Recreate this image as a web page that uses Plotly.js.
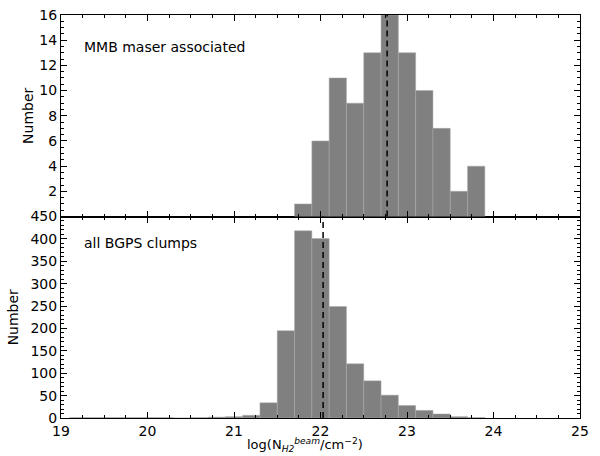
<!DOCTYPE html>
<html>
<head>
<meta charset="utf-8">
<script src="https://cdn.plot.ly/plotly-3.0.1.min.js"></script>
<style>html,body{margin:0;padding:0;background:#fff;}#chart{width:600px;height:456px;}</style>
</head>
<body>
<div id="chart"></div>
<script>
// Bin centres (bin width 0.2 dex)
var mmbBinCenters = [21.8, 22.0, 22.2, 22.4, 22.6, 22.8, 23.0, 23.2, 23.4, 23.6, 23.8];
var mmbCounts     = [1, 6, 11, 9, 13, 16, 13, 10, 7, 2, 4];
var mmbMedian = 22.77;

var bgpsBinCenters = [19.2, 19.4, 19.6, 19.8, 20.0, 20.2, 20.4, 20.6, 20.8, 21.0, 21.2, 21.4, 21.6, 21.8, 22.0, 22.2, 22.4, 22.6, 22.8, 23.0, 23.2, 23.4, 23.6, 23.8];
var bgpsCounts     = [1, 1, 1, 1, 1, 1, 0, 1, 2, 3, 6, 34, 195, 418, 401, 249, 121, 83, 51, 28, 17, 9, 3, 1];
var bgpsMedian = 22.03;

var binWidth = 0.2;
var xTickVals = [19, 20, 21, 22, 23, 24, 25];
var topYTicks = [2, 4, 6, 8, 10, 12, 14, 16];
var botYTicks = [0, 50, 100, 150, 200, 250, 300, 350, 400, 450];

var barColor = '#808080';
var font = {family: 'DejaVu Sans, sans-serif', size: 14, color: '#000'};

var traces = [
  {type: 'bar', x: mmbBinCenters, y: mmbCounts, width: binWidth, xaxis: 'x2', yaxis: 'y2',
   marker: {color: barColor, line: {color: '#a8a8a8', width: 0.5}}, hoverinfo: 'x+y', showlegend: false},
  {type: 'bar', x: bgpsBinCenters, y: bgpsCounts, width: binWidth, xaxis: 'x', yaxis: 'y',
   marker: {color: barColor, line: {color: '#a8a8a8', width: 0.5}}, hoverinfo: 'x+y', showlegend: false}
];

function xAxis(showLabels, anchor) {
  return {
    range: [19, 25], anchor: anchor, tickvals: xTickVals, showticklabels: showLabels,
    ticks: 'inside', ticklen: 6, tickwidth: 1, tickcolor: '#000',
    minor: {dtick: 0.25, tick0: 19, ticks: 'inside', ticklen: 3, tickcolor: '#000', tickwidth: 1},
    showline: true, linecolor: '#000', linewidth: 1, mirror: 'ticks',
    showgrid: false, zeroline: false, tickfont: font
  };
}

var layout = {
  width: 600, height: 456,
  margin: {l: 60.5, r: 19.5, t: 15, b: 38},
  paper_bgcolor: '#fff', plot_bgcolor: '#fff',
  font: font, bargap: 0,
  xaxis: xAxis(true, 'y'),
  xaxis2: Object.assign(xAxis(false, 'y2'), {matches: 'x'}),
  yaxis: {
    domain: [0, 0.5], range: [0, 450], anchor: 'x', tickvals: botYTicks,
    ticks: 'inside', ticklen: 6, tickcolor: '#000',
    minor: {dtick: 10, ticks: 'inside', ticklen: 3, tickcolor: '#000'},
    showline: true, linecolor: '#000', linewidth: 1, mirror: 'ticks',
    showgrid: false, zeroline: false, tickfont: font,
    title: {text: 'Number', font: font, standoff: 8}
  },
  yaxis2: {
    domain: [0.5, 1], range: [0, 16], anchor: 'x2', tickvals: topYTicks,
    ticks: 'inside', ticklen: 6, tickcolor: '#000',
    minor: {dtick: 0.5, ticks: 'inside', ticklen: 3, tickcolor: '#000'},
    showline: true, linecolor: '#000', linewidth: 1, mirror: 'ticks',
    showgrid: false, zeroline: false, tickfont: font,
    title: {text: 'Number', font: font, standoff: 2}
  },
  shapes: [
    {type: 'line', xref: 'x2', yref: 'y2 domain', x0: mmbMedian, x1: mmbMedian, y0: 0, y1: 1,
     line: {color: '#000', width: 1.5, dash: '6px,4px'}},
    {type: 'line', xref: 'x', yref: 'y domain', x0: bgpsMedian, x1: bgpsMedian, y0: 0, y1: 1,
     line: {color: '#000', width: 1.5, dash: '6px,4px'}}
  ],
  annotations: [
    {text: 'MMB maser associated', xref: 'x2 domain', yref: 'y2 domain', x: 0.04, y: 0.84,
     xanchor: 'left', yanchor: 'middle', showarrow: false, font: font},
    {text: 'all BGPS clumps', xref: 'x domain', yref: 'y domain', x: 0.04, y: 0.87,
     xanchor: 'left', yanchor: 'middle', showarrow: false, font: font},
    {text: 'log(N<sub><i>H2</i></sub><sup><i>beam</i></sup>/cm<sup>−2</sup>)', xref: 'paper', yref: 'paper',
     x: 0.47, y: -0.068, xanchor: 'center', yanchor: 'middle', showarrow: false,
     font: {family: 'DejaVu Sans, sans-serif', size: 13, color: '#000'}}
  ]
};

Plotly.newPlot('chart', traces, layout, {displayModeBar: false, staticPlot: true});
</script>
</body>
</html>
